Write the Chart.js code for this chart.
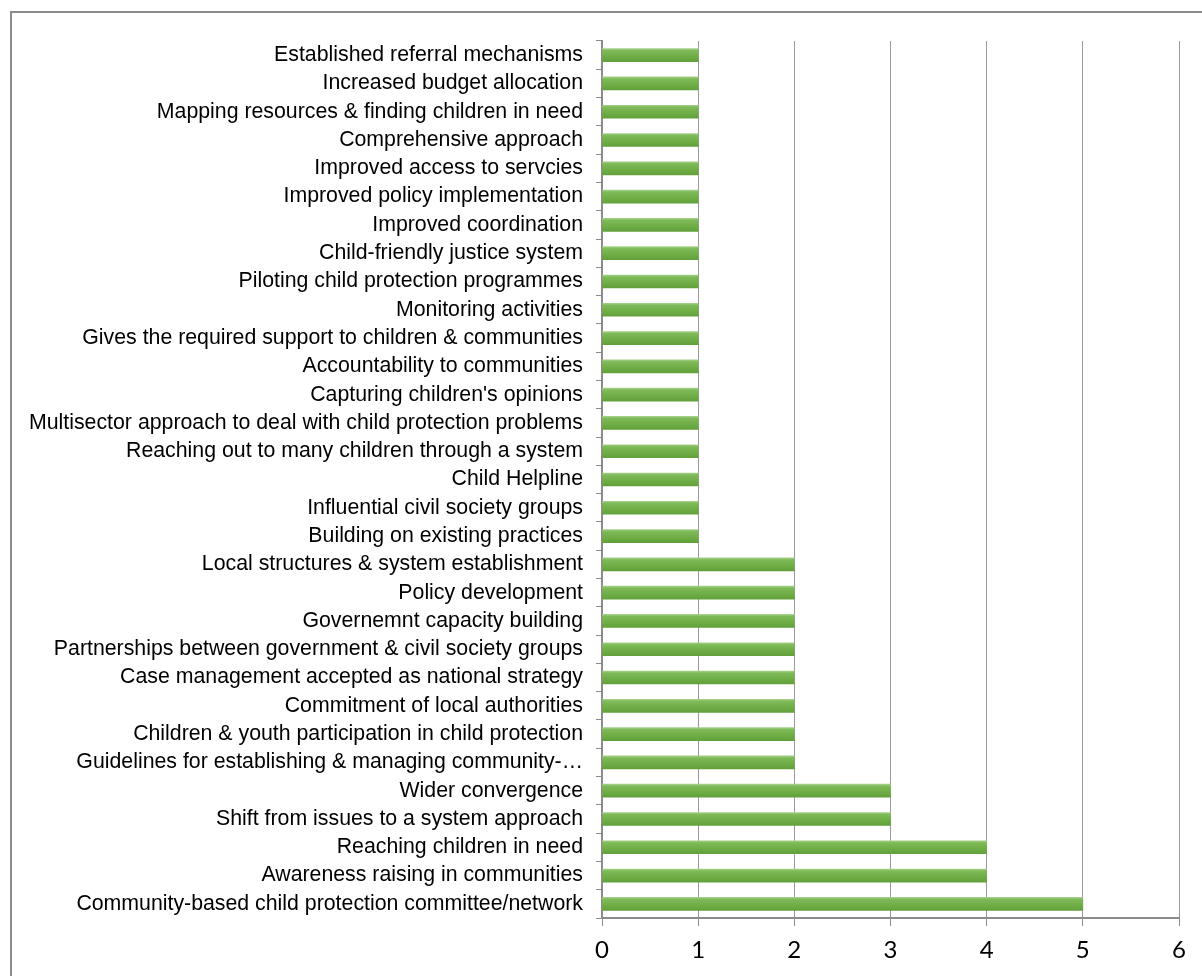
<!DOCTYPE html>
<html>
<head>
<meta charset="utf-8">
<script src="https://cdn.jsdelivr.net/npm/chart.js@4/dist/chart.umd.min.js"></script>
<style>
  html, body { margin: 0; padding: 0; background: #fff; overflow: hidden; }
  #frame { position: absolute; left: 10px; top: 11px; width: 1210px; height: 990px; border: 2px solid #8c8c8c; }
  #wrap { position: absolute; left: 0; top: 0; width: 1202px; height: 976px; }
</style>
</head>
<body>
<div id="frame"></div>
<div id="wrap"><canvas id="outcomes"></canvas></div>
<script>
const categories = [
  'Established referral mechanisms',
  'Increased budget allocation',
  'Mapping resources & finding children in need',
  'Comprehensive approach',
  'Improved access to servcies',
  'Improved policy implementation',
  'Improved coordination',
  'Child-friendly justice system',
  'Piloting child protection programmes',
  'Monitoring activities',
  'Gives the required support to children & communities',
  'Accountability to communities',
  "Capturing children's opinions",
  'Multisector approach to deal with child protection problems',
  'Reaching out to many children through a system',
  'Child Helpline',
  'Influential civil society groups',
  'Building on existing practices',
  'Local structures & system establishment',
  'Policy development',
  'Governemnt capacity building',
  'Partnerships between government & civil society groups',
  'Case management accepted as national strategy',
  'Commitment of local authorities',
  'Children & youth participation in child protection',
  'Guidelines for establishing & managing community-\u2026',
  'Wider convergence',
  'Shift from issues to a system approach',
  'Reaching children in need',
  'Awareness raising in communities',
  'Community-based child protection committee/network'
]

const counts = [
  1, 1, 1, 1, 1, 1, 1, 1, 1, 1,
  1, 1, 1, 1, 1, 1, 1, 1,
  2, 2, 2, 2, 2, 2, 2, 2,
  3, 3,
  4, 4,
  5
]

const xTicks = [0, 1, 2, 3, 4, 5, 6]

const barHalf = 6.5

// vertical gradient per bar, like the Excel fill
function barFill(ctx) {
  const chart = ctx.chart
  const y = chart.scales && chart.scales.y
  if (!y || ctx.dataIndex === undefined) return '#70ad47'
  const yc = y.getPixelForValue(ctx.dataIndex)
  if (!isFinite(yc)) return '#70ad47'
  const g = chart.ctx.createLinearGradient(0, yc - barHalf, 0, yc + barHalf)
  g.addColorStop(0, '#a4d088')
  g.addColorStop(0.15, '#7fba59')
  g.addColorStop(0.6, '#6fad45')
  g.addColorStop(1, '#62a03b')
  return g
}

/* eslint-disable no-new */
new Chart(document.getElementById('outcomes'), {
  type: 'bar',
  data: {
    labels: categories,
    datasets: [{
      data: counts,
      backgroundColor: barFill,
      borderWidth: 0,
      barThickness: 13
    }]
  },
  options: {
    indexAxis: 'y',
    responsive: true,
    maintainAspectRatio: false,
    animation: false,
    layout: { padding: { top: 41, right: 23, left: 0, bottom: 0 } },
    plugins: {
      legend: { display: false },
      tooltip: { enabled: false }
    },
    scales: {
      x: {
        min: 0,
        max: 6,
        afterBuildTicks: (scale) => {
          scale.ticks = xTicks.map((v) => ({ value: v }))
        },
        afterFit: (scale) => { scale.height = 58 },
        border: { display: true, color: '#8c8c8c', width: 2 },
        grid: {
          color: '#9a9a9a',
          lineWidth: 1,
          drawTicks: true,
          tickLength: 8,
          tickColor: '#8c8c8c'
        },
        ticks: {
          padding: 10,
          color: '#000',
          font: { family: 'Lato, "Open Sans", sans-serif', size: 24 }
        }
      },
      y: {
        afterFit: (scale) => { scale.width = 602 },
        border: { display: true, color: '#8c8c8c', width: 2 },
        grid: {
          drawOnChartArea: false,
          drawTicks: true,
          tickLength: 6,
          tickColor: '#8c8c8c',
          lineWidth: 1
        },
        ticks: {
          autoSkip: false,
          padding: 13,
          color: '#000',
          font: { family: '"Liberation Sans", Arial, sans-serif', size: 21.3 }
        }
      }
    }
  }
})
</script>
</body>
</html>
